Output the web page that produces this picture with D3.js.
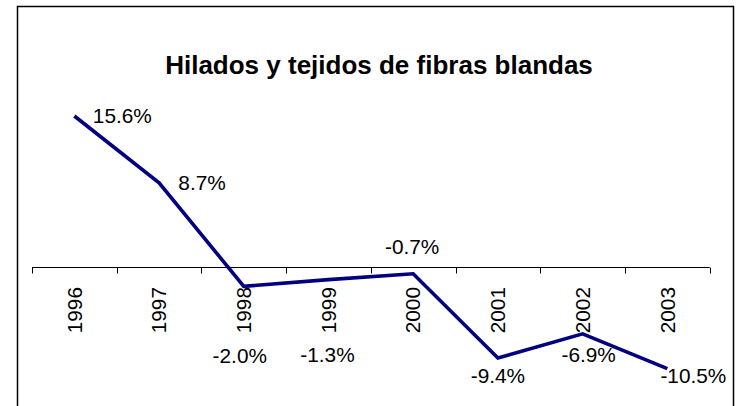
<!DOCTYPE html>
<html>
<head>
<meta charset="utf-8">
<script src="https://cdn.jsdelivr.net/npm/d3@7"></script>
<style>
  html, body { margin: 0; padding: 0; background: #fff; }
  svg { display: block; }
  text { font-family: "Liberation Sans", Arial, sans-serif; }
</style>
</head>
<body>
<svg id="chart" width="737" height="406"></svg>
<script>
// ---- data ----
const categories = ["1996", "1997", "1998", "1999", "2000", "2001", "2002", "2003"];
const values = [15.6, 8.7, -2.0, -1.3, -0.7, -9.4, -6.9, -10.5];
const valueLabels = ["15.6%", "8.7%", "-2.0%", "-1.3%", "-0.7%", "-9.4%", "-6.9%", "-10.5%"];
const title = "Hilados y tejidos de fibras blandas";
// label placement offsets (px) relative to each point, label centre
const labelDx = [48, 43, -4, -1, -1, 0, 6, 26];
const labelDy = [0, 0, 69, 75, -27, 18, 21, 7];

// ---- layout ----
const svg = d3.select("#chart");
const fs = 20.8;

svg.append("rect")
  .attr("x", 17.5).attr("y", 6.5)
  .attr("width", 716).attr("height", 420)
  .attr("fill", "#fff").attr("stroke", "#000").attr("stroke-width", 1.5);

const x = d3.scaleBand().domain(categories).range([32, 709.7]).padding(0);
const y = d3.scaleLinear().domain([-12, 16]).range([267 + 12 * 9.68, 267 - 16 * 9.68]);

// title
svg.append("text")
  .attr("x", 379).attr("y", 74)
  .attr("text-anchor", "middle")
  .attr("font-weight", "bold")
  .attr("font-size", 26)
  .attr("fill", "#000")
  .text(title);

// category axis at zero
const y0 = Math.round(y(0)) + 0.5;
const axis = svg.append("g");
axis.append("line")
  .attr("x1", x.range()[0]).attr("x2", x.range()[1])
  .attr("y1", y0).attr("y2", y0)
  .attr("stroke", "#000").attr("stroke-width", 1);
const edges = categories.map(c => x(c)).concat([x.range()[1]]);
axis.selectAll("line.tick").data(edges).enter().append("line")
  .attr("class", "tick")
  .attr("x1", d => Math.round(d) + 0.5).attr("x2", d => Math.round(d) + 0.5)
  .attr("y1", y0).attr("y2", y0 + 6)
  .attr("stroke", "#000").attr("stroke-width", 1);
axis.selectAll("text.cat").data(categories).enter().append("text")
  .attr("class", "cat")
  .attr("transform", d => `translate(${x(d) + x.bandwidth() / 2},287) rotate(-90)`)
  .attr("text-anchor", "end")
  .attr("dy", "0.35em")
  .attr("font-size", fs)
  .attr("fill", "#000")
  .text(d => d);

// line
const pts = categories.map((c, i) => ({ c, v: values[i], i }));
const line = d3.line().x(d => x(d.c) + x.bandwidth() / 2).y(d => y(d.v));
svg.append("path")
  .datum(pts)
  .attr("d", line)
  .attr("fill", "none")
  .attr("stroke", "#000080")
  .attr("stroke-width", 3.6)
  .attr("stroke-linejoin", "miter");

// data labels
svg.selectAll("text.lbl").data(pts).enter().append("text")
  .attr("class", "lbl")
  .attr("x", d => x(d.c) + x.bandwidth() / 2 + labelDx[d.i])
  .attr("y", d => y(d.v) + labelDy[d.i])
  .attr("dy", "0.36em")
  .attr("text-anchor", "middle")
  .attr("font-size", fs)
  .attr("fill", "#000")
  .text(d => valueLabels[d.i]);
</script>
</body>
</html>
